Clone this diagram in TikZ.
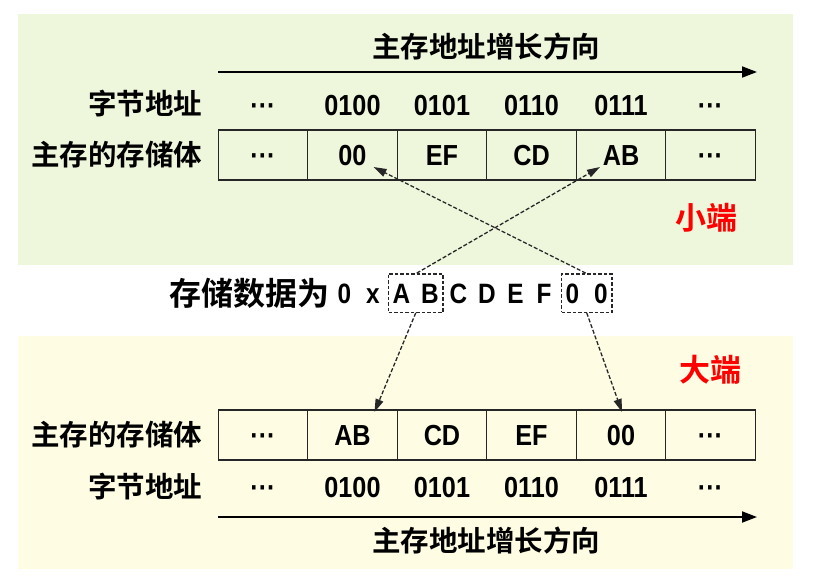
\documentclass[tikz,border=0pt]{standalone}
\usepackage{fontspec}
\setmainfont{Liberation Sans}
\newfontfamily\cjk[BoldFont={Noto Sans CJK SC Bold}]{Noto Sans CJK SC}
\newfontfamily\numfont[FakeStretch=0.87]{Liberation Sans}
\usetikzlibrary{arrows.meta,calc,fit,positioning}
\definecolor{panelgreen}{RGB}{238,247,220}
\definecolor{panelyellow}{RGB}{254,253,228}
\tikzset{cn/.style={font=\fontsize{28.5}{28.5}\selectfont\cjk\bfseries}}
\tikzset{bigcn/.style={font=\fontsize{32}{32}\selectfont\cjk\bfseries}}
\tikzset{endian/.style={font=\fontsize{31}{31}\selectfont\cjk\bfseries, text=red}}
\tikzset{num/.style={font=\fontsize{29}{29}\selectfont\numfont\bfseries, inner sep=0pt, text height=21pt, text depth=0pt}}
\tikzset{cell/.style={num, draw=black!85, line width=1.4pt, minimum width=89.5pt, minimum height=50pt}}
\tikzset{dat/.style={font=\fontsize{28}{28}\selectfont\numfont\bfseries, inner sep=0pt, text height=20pt, text depth=0pt}}
\tikzset{pick/.style={draw=black!85, dash pattern=on 3.5pt off 2pt, line width=1.4pt, inner xsep=4pt, inner ysep=9pt}}
\tikzset{growarrow/.style={line width=1.8pt, -{Triangle[length=15pt,width=11pt]}}}
\tikzset{dasharrow/.style={dash pattern=on 4pt off 2pt, line width=1.3pt, black!85, -{Triangle[length=13pt,width=8pt]}}}
\newcommand{\dotsym}{\textperiodcentered\textperiodcentered\textperiodcentered}

\begin{document}
\begin{tikzpicture}[x=1pt,y=-1pt]
  \useasboundingbox (0,0) rectangle (836,584);
  \fill[panelgreen] (18,14) rectangle (793,265);
  \fill[panelyellow] (18,336) rectangle (793,569);

  % little endian
  \node[cn] (ttitle) at (486,47) {主存地址增长方向};
  \coordinate (tl) at (218,72);
  \coordinate (tr) at (757,72);
  \draw[growarrow] (tl) -- (tr);
  \node[cn, anchor=east] (taddr) at (206,104) {字节地址};
  \node[cn, anchor=east] (tmem) at (206,155) {主存的存储体};
  \foreach \t [count=\i] in {\dotsym,0100,0101,0110,0111,\dotsym}
    \node[num] (ta\i) at ({173.5+89.5*\i},105) {\t};
  \foreach \t [count=\i] in {\dotsym,00,EF,CD,AB,\dotsym}
    \node[cell] (t\i) at ({173.5+89.5*\i},155) {\t};
  \node[endian] (little) at (706,218) {小端};

  % stored value
  \foreach \c [count=\i] in {0,x,A,B,C,D,E,F,0,0}
    \node[dat] (d\i) at ({316+28.5*\i},293) {\c};
  \node[bigcn, anchor=east] (store) at (333,293) {存储数据为};
  \node[pick, fit=(d3)(d4)] (hi) {};
  \node[pick, fit=(d9)(d10)] (lo) {};

  % big endian
  \node[endian] (big) at (710,370) {大端};
  \node[cn, anchor=east] (bmem) at (206,435) {主存的存储体};
  \node[cn, anchor=east] (baddr) at (206,487) {字节地址};
  \foreach \t [count=\i] in {\dotsym,AB,CD,EF,00,\dotsym}
    \node[cell] (b\i) at ({173.5+89.5*\i},435) {\t};
  \foreach \t [count=\i] in {\dotsym,0100,0101,0110,0111,\dotsym}
    \node[num] (ba\i) at ({173.5+89.5*\i},487) {\t};
  \coordinate (bl) at (218,517);
  \coordinate (br) at (757,517);
  \draw[growarrow] (bl) -- (br);
  \node[cn] (btitle) at (486,541) {主存地址增长方向};

  % where the bytes go
  \draw[dasharrow] ($(hi.north)+(1,0)$) -- ($(t5.center)+(-21,12)$);
  \draw[dasharrow] ($(lo.north)+(-1,0)$) -- ($(t2.center)+(21,12)$);
  \draw[dasharrow] (hi.south) -- ($(b2.center)+(22,-23)$);
  \draw[dasharrow] (lo.south) -- ($(b5.center)+(1,-23)$);
\end{tikzpicture}
\end{document}
